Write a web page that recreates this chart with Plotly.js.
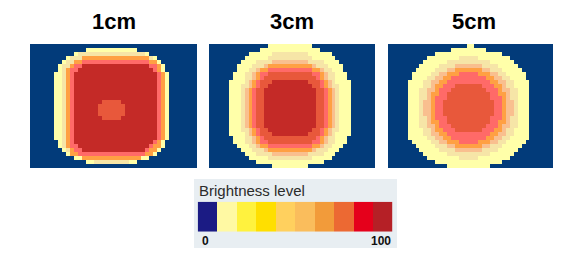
<!DOCTYPE html>
<html>
<head>
<meta charset="utf-8">
<script src="https://cdn.plot.ly/plotly-3.0.1.min.js"></script>
<style>html,body{margin:0;padding:0;background:#fff;}#chart{width:588px;height:259px;}</style>
</head>
<body>
<div id="chart"></div>
<script>
// ---- DATA ----
// brightness class of every cell, run-length coded per row ("class*count")
// classes: 0 background, 1 pale yellow, 2 cream, 3 peach, 4 orange, 5 pink, 6 orange-red, 7 dark red
var panelTitles = ['1cm', '3cm', '5cm'];

var rows1cm = [
  "0*42",
  "0*14 1*13 0*15",
  "0*11 1*1 2*17 1*1 0*12",
  "0*9 1*1 2*3 4*17 2*1 1*1 0*10",
  "0*8 1*1 2*2 4*2 5*17 4*2 1*1 0*9",
  "0*7 1*1 2*2 4*1 5*2 7*17 5*2 4*1 1*1 0*8",
  "0*7 1*1 2*1 4*1 5*2 7*19 5*1 4*1 1*1 0*8",
  "0*6 1*2 2*1 4*1 5*1 7*21 5*1 4*1 1*1 0*7",
  "0*6 1*2 2*1 4*1 5*1 7*21 5*1 4*1 1*1 0*7",
  "0*6 1*2 2*1 4*1 5*1 7*21 5*1 4*1 1*1 0*7",
  "0*6 1*2 2*1 4*1 5*1 7*21 5*1 4*1 1*1 0*7",
  "0*6 1*2 2*1 4*1 5*1 7*21 5*1 4*1 1*1 0*7",
  "0*6 1*2 2*1 4*1 5*1 7*21 5*1 4*1 1*1 0*7",
  "0*6 1*2 2*1 4*1 5*1 7*21 5*1 4*1 1*1 0*7",
  "0*6 1*2 2*1 4*1 5*1 7*7 6*5 7*9 5*1 4*1 1*1 0*7",
  "0*6 1*2 2*1 4*1 5*1 7*6 6*7 7*8 5*1 4*1 1*1 0*7",
  "0*6 1*2 2*1 4*1 5*1 7*6 6*7 7*8 5*1 4*1 1*1 0*7",
  "0*6 1*2 2*1 4*1 5*1 7*6 6*7 7*8 5*1 4*1 1*1 0*7",
  "0*6 1*2 2*1 4*1 5*1 7*7 6*5 7*9 5*1 4*1 1*1 0*7",
  "0*6 1*2 2*1 4*1 5*1 7*21 5*1 4*1 1*1 0*7",
  "0*6 1*2 2*1 4*1 5*1 7*21 5*1 4*1 1*1 0*7",
  "0*6 1*2 2*1 4*1 5*1 7*21 5*1 4*1 1*1 0*7",
  "0*6 1*2 2*1 4*1 5*1 7*21 5*1 4*1 1*1 0*7",
  "0*6 1*2 2*1 4*1 5*1 7*21 5*1 4*1 1*1 0*7",
  "0*7 1*1 2*1 4*1 5*1 7*20 5*1 4*1 1*1 0*8",
  "0*7 1*1 2*1 4*1 5*2 7*18 5*1 4*2 1*1 0*8",
  "0*8 1*1 2*1 4*1 5*2 7*16 5*1 4*2 1*1 0*9",
  "0*9 1*1 4*2 5*17 4*2 1*1 0*10",
  "0*11 1*2 4*15 1*2 0*12",
  "0*14 1*2 2*9 1*2 0*15",
  "0*42"
];

var rows3cm = [
  "0*15 1*11 0*16",
  "0*13 1*15 0*14",
  "0*10 1*6 2*9 1*6 0*11",
  "0*9 1*6 2*11 1*6 0*10",
  "0*8 1*4 2*4 3*9 2*4 1*4 0*9",
  "0*7 1*4 2*3 3*1 4*11 3*1 2*3 1*4 0*8",
  "0*7 1*3 2*2 3*1 4*2 5*11 4*2 3*1 2*2 1*3 0*8",
  "0*6 1*3 2*2 3*1 4*1 5*2 6*11 5*2 4*1 3*1 2*2 1*3 0*7",
  "0*6 1*3 2*2 3*1 4*1 5*1 6*13 5*1 4*1 3*1 2*2 1*3 0*7",
  "0*5 1*4 2*1 3*1 4*1 5*1 6*3 7*9 6*3 5*1 4*1 3*1 2*1 1*4 0*6",
  "0*5 1*3 2*2 3*1 4*1 5*1 6*2 7*11 6*2 5*1 4*1 3*1 2*2 1*3 0*6",
  "0*5 1*3 2*1 3*1 4*1 5*1 6*2 7*13 6*2 5*1 4*1 3*1 2*1 1*3 0*6",
  "0*5 1*3 2*1 3*1 4*1 5*1 6*2 7*13 6*2 5*1 4*1 3*1 2*1 1*3 0*6",
  "0*5 1*3 2*1 3*1 4*1 5*1 6*2 7*13 6*2 5*1 4*1 3*1 2*1 1*3 0*6",
  "0*5 1*3 2*1 3*1 4*1 5*1 6*2 7*13 6*2 5*1 4*1 3*1 2*1 1*3 0*6",
  "0*5 1*3 2*1 3*1 4*1 5*1 6*2 7*13 6*2 5*1 4*1 3*1 2*1 1*3 0*6",
  "0*5 1*3 2*1 3*1 4*1 5*1 6*2 7*13 6*2 5*1 4*1 3*1 2*1 1*3 0*6",
  "0*5 1*3 2*1 3*1 4*1 5*1 6*2 7*13 6*2 5*1 4*1 3*1 2*1 1*3 0*6",
  "0*5 1*3 2*1 3*1 4*1 5*1 6*2 7*13 6*2 5*1 4*1 3*1 2*1 1*3 0*6",
  "0*5 1*3 2*1 3*1 4*1 5*1 6*2 7*13 6*2 5*1 4*1 3*1 2*1 1*3 0*6",
  "0*5 1*3 2*1 3*1 4*1 5*1 6*2 7*13 6*2 5*1 4*1 3*1 2*1 1*3 0*6",
  "0*5 1*3 2*2 3*1 4*1 5*1 6*2 7*11 6*2 5*1 4*1 3*1 2*2 1*3 0*6",
  "0*5 1*4 2*1 3*1 4*1 5*1 6*3 7*9 6*3 5*1 4*1 3*1 2*1 1*4 0*6",
  "0*6 1*3 2*2 3*1 4*1 5*1 6*13 5*1 4*1 3*1 2*2 1*3 0*7",
  "0*6 1*3 2*2 3*1 4*1 5*2 6*11 5*2 4*1 3*1 2*2 1*3 0*7",
  "0*7 1*3 2*2 3*1 4*2 5*11 4*2 3*1 2*2 1*3 0*8",
  "0*8 1*3 2*3 3*1 4*11 3*1 2*3 1*3 0*9",
  "0*9 1*3 2*4 3*9 2*4 1*3 0*10",
  "0*10 1*5 2*11 1*5 0*11",
  "0*12 1*17 0*13",
  "0*16 1*9 0*17"
];

var rows5cm = [
  "0*20 1*2 0*20",
  "0*16 1*9 0*17",
  "0*12 1*17 0*13",
  "0*10 1*8 2*5 1*8 0*11",
  "0*9 1*6 2*11 1*6 0*10",
  "0*8 1*5 2*4 3*7 2*4 1*5 0*9",
  "0*7 1*5 2*3 3*2 4*7 3*2 2*3 1*5 0*8",
  "0*6 1*5 2*2 3*2 4*3 5*5 4*3 3*2 2*2 1*5 0*7",
  "0*6 1*4 2*2 3*2 4*2 5*9 4*2 3*2 2*2 1*4 0*7",
  "0*5 1*4 2*2 3*2 4*2 5*11 4*2 3*2 2*2 1*4 0*6",
  "0*5 1*4 2*2 3*1 4*2 5*3 6*7 5*3 4*2 3*1 2*2 1*4 0*6",
  "0*5 1*3 2*2 3*2 4*1 5*3 6*9 5*3 4*1 3*2 2*2 1*3 0*6",
  "0*5 1*3 2*2 3*1 4*2 5*2 6*11 5*2 4*2 3*1 2*2 1*3 0*6",
  "0*5 1*3 2*2 3*1 4*1 5*3 6*11 5*3 4*1 3*1 2*2 1*3 0*6",
  "0*5 1*3 2*1 3*2 4*1 5*2 6*13 5*2 4*1 3*2 2*1 1*3 0*6",
  "0*5 1*3 2*1 3*2 4*1 5*2 6*13 5*2 4*1 3*2 2*1 1*3 0*6",
  "0*5 1*3 2*1 3*2 4*1 5*2 6*13 5*2 4*1 3*2 2*1 1*3 0*6",
  "0*5 1*3 2*1 3*2 4*1 5*2 6*13 5*2 4*1 3*2 2*1 1*3 0*6",
  "0*5 1*3 2*2 3*1 4*1 5*3 6*11 5*3 4*1 3*1 2*2 1*3 0*6",
  "0*5 1*3 2*2 3*1 4*2 5*2 6*11 5*2 4*2 3*1 2*2 1*3 0*6",
  "0*5 1*3 2*2 3*2 4*1 5*3 6*9 5*3 4*1 3*2 2*2 1*3 0*6",
  "0*5 1*4 2*2 3*1 4*2 5*3 6*7 5*3 4*2 3*1 2*2 1*4 0*6",
  "0*5 1*4 2*2 3*2 4*2 5*11 4*2 3*2 2*2 1*4 0*6",
  "0*5 1*5 2*2 3*2 4*2 5*9 4*2 3*2 2*2 1*5 0*6",
  "0*6 1*5 2*2 3*2 4*3 5*5 4*3 3*2 2*2 1*5 0*7",
  "0*7 1*5 2*3 3*2 4*7 3*2 2*3 1*5 0*8",
  "0*8 1*5 2*4 3*7 2*4 1*5 0*9",
  "0*9 1*6 2*11 1*6 0*10",
  "0*10 1*8 2*5 1*8 0*11",
  "0*12 1*17 0*13",
  "0*15 1*11 0*16"
];

var classColors = ['#023b7a', '#ffffa9', '#f6e5a7', '#f9bf8f', '#ffa043', '#ff6a68', '#e8583b', '#c42a27'];

// legend: brightness scale 0..100 in 10 steps
var legendSteps = [0, 1, 2, 3, 4, 5, 6, 7, 8, 9];
var legendColors = ['#1b1b84', '#fff9a3', '#fff23e', '#ffdf00', '#ffd05e', '#fabd5c', '#f29b3a', '#ec6933', '#e5001b', '#b52026'];
var legendTitle = 'Brightness level';
var legendTickLabels = ['0', '100'];

// ---- build ----
var NCOLS = 42;
function decode(rows) {
  return rows.map(function (r) {
    var out = [];
    r.split(' ').forEach(function (tok) {
      var p = tok.split('*');
      for (var i = 0; i < +p[1]; i++) out.push(+p[0]);
    });
    while (out.length < NCOLS) out.push(0);
    return out.slice(0, NCOLS);
  });
}
function stepScale(colors) {
  var n = colors.length, cs = [];
  colors.forEach(function (c, k) { cs.push([k / n, c]); cs.push([(k + 1) / n, c]); });
  return cs;
}

var W = 588, H = 259;
function px(x) { return x / W; }
function py(y) { return 1 - y / H; }

var panelX = [[30, 197], [209, 375], [388, 553]];
var panelY = [44, 168];
var grids = [decode(rows1cm), decode(rows3cm), decode(rows5cm)];

var data = [];
var layout = {
  width: W, height: H,
  margin: {l: 0, r: 0, t: 0, b: 0},
  paper_bgcolor: '#ffffff',
  plot_bgcolor: '#ffffff',
  showlegend: false,
  shapes: [],
  annotations: []
};

grids.forEach(function (z, i) {
  var n = i + 1, xa = 'x' + (n === 1 ? '' : n), ya = 'y' + (n === 1 ? '' : n);
  data.push({
    type: 'heatmap', z: z, xaxis: xa, yaxis: ya,
    zmin: -0.5, zmax: classColors.length - 0.5,
    colorscale: stepScale(classColors), showscale: false, hoverinfo: 'skip'
  });
  var xk = 'xaxis' + (n === 1 ? '' : n), yk = 'yaxis' + (n === 1 ? '' : n);
  layout[xk] = {domain: [px(panelX[i][0]), px(panelX[i][1])], range: [-0.5, NCOLS - 0.5], visible: false, fixedrange: true, anchor: ya};
  layout[yk] = {domain: [py(panelY[1]), py(panelY[0])], range: [z.length - 0.5, -0.5], visible: false, fixedrange: true, anchor: xa};
  layout.annotations.push({
    text: '<b>' + panelTitles[i] + '</b>', xref: 'paper', yref: 'paper',
    x: px([114, 291.7, 474][i]), y: py(21), xanchor: 'center', yanchor: 'middle',
    showarrow: false, font: {family: 'Liberation Sans, Arial, sans-serif', size: 22, color: '#000'}
  });
});

// legend box
layout.shapes.push({type: 'rect', xref: 'paper', yref: 'paper', x0: px(194), x1: px(397), y0: py(248), y1: py(179),
  fillcolor: '#e8eef2', line: {width: 0}, layer: 'below'});

data.push({
  type: 'heatmap', z: [legendSteps], xaxis: 'x4', yaxis: 'y4',
  zmin: -0.5, zmax: legendSteps.length - 0.5,
  colorscale: stepScale(legendColors), showscale: false, hoverinfo: 'skip'
});
layout.xaxis4 = {domain: [px(197.7), px(392.3)], range: [-0.5, legendSteps.length - 0.5], visible: false, fixedrange: true, anchor: 'y4'};
layout.yaxis4 = {domain: [py(231.7), py(201.7)], range: [-0.5, 0.5], visible: false, fixedrange: true, anchor: 'x4'};

layout.annotations.push({
  text: legendTitle, xref: 'paper', yref: 'paper', x: px(197), y: py(190),
  xanchor: 'left', yanchor: 'middle', showarrow: false,
  font: {family: 'Liberation Sans, Arial, sans-serif', size: 15, color: '#2b2b2b'}
});
layout.annotations.push({
  text: '<b>' + legendTickLabels[0] + '</b>', xref: 'paper', yref: 'paper', x: px(205.5), y: py(241),
  xanchor: 'center', yanchor: 'middle', showarrow: false,
  font: {family: 'Liberation Sans, Arial, sans-serif', size: 12, color: '#111'}
});
layout.annotations.push({
  text: '<b>' + legendTickLabels[1] + '</b>', xref: 'paper', yref: 'paper', x: px(393), y: py(240.5),
  xanchor: 'right', yanchor: 'middle', showarrow: false,
  font: {family: 'Liberation Sans, Arial, sans-serif', size: 12, color: '#111'}
});

Plotly.newPlot('chart', data, layout, {staticPlot: true, displayModeBar: false});
</script>
</body>
</html>
